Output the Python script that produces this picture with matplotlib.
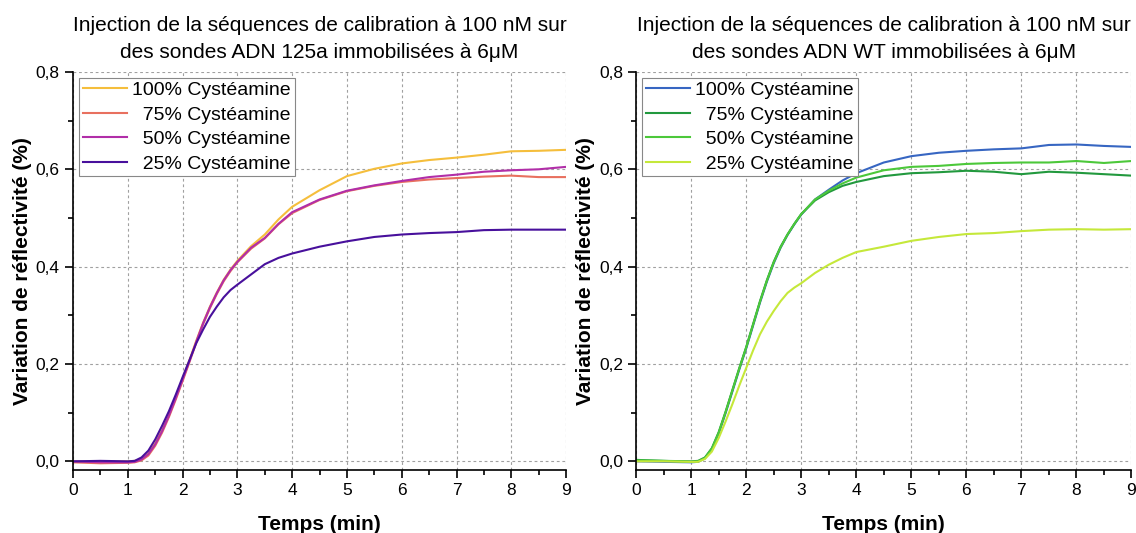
import matplotlib
matplotlib.use("Agg")
import matplotlib.pyplot as plt
from matplotlib.ticker import MultipleLocator, FuncFormatter

plt.rcParams['font.family'] = ['Liberation Sans', 'DejaVu Sans']

# temps (min)
t = [0, 0.5, 1.0, 1.125, 1.25, 1.375, 1.5, 1.625, 1.75, 1.875, 2.0, 2.125, 2.25, 2.375, 2.5,
     2.625, 2.75, 2.875, 3.0, 3.25, 3.5, 3.75, 4.0, 4.5, 5.0, 5.5, 6.0, 6.5, 7.0, 7.5, 8.0, 8.5, 9.0]

# sondes 125a
a_100 = [0.000, -0.001, 0.000, 0.001, 0.005, 0.016, 0.037, 0.064, 0.096, 0.132, 0.170, 0.208, 0.248,
         0.285, 0.318, 0.347, 0.373, 0.394, 0.412, 0.442, 0.466, 0.497, 0.523, 0.557, 0.586, 0.601,
         0.612, 0.619, 0.624, 0.630, 0.637, 0.638, 0.640]
a_75 = [-0.002, -0.004, -0.003, -0.002, 0.002, 0.012, 0.032, 0.059, 0.091, 0.127, 0.165, 0.204, 0.244,
        0.282, 0.315, 0.344, 0.370, 0.391, 0.409, 0.437, 0.458, 0.487, 0.510, 0.537, 0.555, 0.566,
        0.574, 0.579, 0.582, 0.585, 0.587, 0.584, 0.584]
a_50 = [0.000, -0.002, -0.002, -0.001, 0.004, 0.015, 0.035, 0.062, 0.094, 0.130, 0.168, 0.206, 0.246,
        0.284, 0.317, 0.346, 0.372, 0.393, 0.410, 0.439, 0.459, 0.488, 0.512, 0.538, 0.556, 0.567,
        0.576, 0.584, 0.589, 0.595, 0.598, 0.600, 0.605]
a_25 = [0.000, 0.001, 0.000, 0.001, 0.008, 0.022, 0.045, 0.073, 0.103, 0.137, 0.173, 0.208, 0.243,
        0.271, 0.297, 0.318, 0.337, 0.352, 0.363, 0.384, 0.405, 0.418, 0.427, 0.441, 0.452, 0.461,
        0.466, 0.469, 0.471, 0.475, 0.476, 0.476, 0.476]

# sondes WT
w_100 = [0.000, -0.001, -0.002, -0.001, 0.006, 0.024, 0.057, 0.099, 0.144, 0.189, 0.232, 0.279, 0.326,
         0.369, 0.407, 0.439, 0.465, 0.487, 0.507, 0.538, 0.558, 0.577, 0.592, 0.614, 0.627, 0.634,
         0.638, 0.641, 0.643, 0.650, 0.651, 0.648, 0.646]
w_75 = [0.003, 0.001, 0.000, 0.001, 0.008, 0.027, 0.060, 0.102, 0.147, 0.192, 0.235, 0.282, 0.329,
        0.372, 0.410, 0.441, 0.466, 0.488, 0.508, 0.536, 0.553, 0.566, 0.574, 0.586, 0.592, 0.594,
        0.597, 0.595, 0.590, 0.595, 0.593, 0.590, 0.587]
w_50 = [0.002, 0.001, -0.001, 0.000, 0.007, 0.026, 0.059, 0.101, 0.146, 0.191, 0.234, 0.281, 0.328,
        0.371, 0.409, 0.440, 0.466, 0.488, 0.508, 0.538, 0.556, 0.571, 0.583, 0.598, 0.605, 0.607,
        0.611, 0.613, 0.614, 0.614, 0.617, 0.613, 0.617]
w_25 = [0.000, 0.000, -0.001, -0.001, 0.005, 0.020, 0.048, 0.082, 0.118, 0.156, 0.192, 0.228, 0.261,
        0.287, 0.309, 0.329, 0.346, 0.357, 0.366, 0.387, 0.404, 0.418, 0.430, 0.441, 0.453, 0.461,
        0.467, 0.469, 0.473, 0.476, 0.477, 0.476, 0.477]

labels = ["100% Cystéamine", "  75% Cystéamine", "  50% Cystéamine", "  25% Cystéamine"]
colors_a = ["#F5BE3C", "#E8705F", "#B12EA8", "#48109C"]
colors_w = ["#3766C2", "#22993E", "#4CC83A", "#C5E83A"]

titles = ["Injection de la séquences de calibration à 100 nM sur\ndes sondes ADN 125a immobilisées à 6μM",
          "Injection de la séquences de calibration à 100 nM sur\ndes sondes ADN WT immobilisées à 6μM"]

fig = plt.figure(figsize=(11.36, 5.33), dpi=100)
ax1 = fig.add_axes([0.0643, 0.118, 0.434, 0.747])
ax2 = fig.add_axes([0.560, 0.118, 0.436, 0.747])

comma = FuncFormatter(lambda v, p: f"{v:.1f}".replace(".", ","))

for ax, series, cols, title in [(ax1, [a_100, a_75, a_50, a_25], colors_a, titles[0]),
                                (ax2, [w_100, w_75, w_50, w_25], colors_w, titles[1])]:
    for y, c, lab in zip(series, cols, labels):
        ax.plot(t, y, color=c, lw=1.5, label=lab)
    ax.set_xlim(0, 9)
    ax.set_ylim(-0.018, 0.8)
    ax.xaxis.set_major_locator(MultipleLocator(1))
    ax.xaxis.set_minor_locator(MultipleLocator(0.5))
    ax.yaxis.set_major_locator(MultipleLocator(0.2))
    ax.yaxis.set_minor_locator(MultipleLocator(0.1))
    ax.yaxis.set_major_formatter(comma)
    ax.spines['top'].set_visible(False)
    ax.spines['right'].set_visible(False)
    ax.spines['left'].set_linewidth(1.2)
    ax.spines['bottom'].set_linewidth(1.2)
    ax.tick_params(which='major', direction='out', length=6, width=1.2, labelsize=12.5)
    ax.tick_params(which='minor', direction='out', length=3.5, width=1.2)
    ax.grid(True, which='major', color='#a0a0a0', ls=(0, (2.5, 2.5)), lw=0.8)
    ax.set_axisbelow(True)
    ax.set_xlabel("Temps (min)", fontsize=15, fontweight='bold', labelpad=12)
    ax.set_ylabel("Variation de réflectivité (%)", fontsize=15, fontweight='bold', labelpad=3)
    ax.set_title(title, fontsize=15, linespacing=1.55, pad=10)
    leg = ax.legend(loc='upper left', fontsize=14, handlelength=2.25, handletextpad=0.3,
                    borderpad=0.2, labelspacing=0.35, fancybox=False, framealpha=1,
                    edgecolor='#888888', borderaxespad=0.3)
    leg.get_frame().set_linewidth(0.8)

fig.savefig("out.png", dpi=100)
